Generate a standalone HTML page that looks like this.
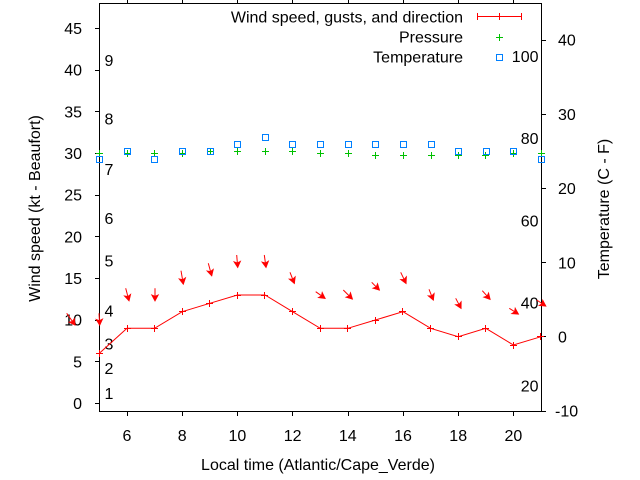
<!DOCTYPE html>
<html><head><meta charset="utf-8"><style>
html,body{margin:0;padding:0;background:#fff;}
svg{display:block;}
text{font-family:"Liberation Sans",Arial,sans-serif;font-size:16px;fill:#000;}
</style></head><body>
<svg width="640" height="480" viewBox="0 0 640 480" xmlns="http://www.w3.org/2000/svg">
<defs>
<marker id="ah" markerUnits="userSpaceOnUse" markerWidth="9" markerHeight="9" refX="6" refY="3.5" orient="auto" overflow="visible">
<path d="M0,0 L6.5,3.5 L0,7 L1.5,3.5 z" fill="#ff0000" stroke="#ff0000" stroke-width="0.6"/>
</marker>
</defs>
<rect width="640" height="480" fill="#fff"/>

<!-- border -->
<g stroke="#000" stroke-width="1" fill="none" shape-rendering="crispEdges">
<rect x="99.5" y="3.5" width="442" height="408"/>
<path d="M95,403.5H99 M95,361.5H99 M95,320.5H99 M95,278.5H99 M95,236.5H99 M95,195.5H99 M95,153.5H99 M95,111.5H99 M95,70.5H99 M95,28.5H99"/>
<path d="M542,336.5H546 M542,262.5H546 M542,188.5H546 M542,114.5H546 M542,40.5H546 M542,411.5H546"/>
<path d="M127.5,412V416 M182.5,412V416 M237.5,412V416 M292.5,412V416 M348.5,412V416 M403.5,412V416 M458.5,412V416 M513.5,412V416"/>
<path d="M127.5,0V3 M182.5,0V3 M237.5,0V3 M292.5,0V3 M348.5,0V3 M403.5,0V3 M458.5,0V3 M513.5,0V3"/>
</g>

<!-- left tick labels -->
<g text-anchor="end">
<text x="82" y="409">0</text>
<text x="82" y="367.3">5</text>
<text x="82" y="325.7">10</text>
<text x="82" y="284">15</text>
<text x="82" y="242.3">20</text>
<text x="82" y="200.7">25</text>
<text x="82" y="159">30</text>
<text x="82" y="117.3">35</text>
<text x="82" y="75.7">40</text>
<text x="82" y="34">45</text>
</g>

<!-- right tick labels -->
<text x="555" y="416.7">-10</text>
<text x="558" y="342.5">0</text>
<text x="558" y="268.3">10</text>
<text x="558" y="194.1">20</text>
<text x="558" y="119.9">30</text>
<text x="558" y="45.7">40</text>

<!-- x tick labels -->
<g text-anchor="middle">
<text x="127" y="441">6</text>
<text x="182.2" y="441">8</text>
<text x="237.4" y="441">10</text>
<text x="292.6" y="441">12</text>
<text x="347.8" y="441">14</text>
<text x="403" y="441">16</text>
<text x="458.2" y="441">18</text>
<text x="513.4" y="441">20</text>
</g>

<!-- Beaufort labels -->
<text x="104.5" y="399.2">1</text>
<text x="104.5" y="374.2">2</text>
<text x="104.5" y="349.7">3</text>
<text x="104.5" y="316.7">4</text>
<text x="104.5" y="266.7">5</text>
<text x="104.5" y="224.2">6</text>
<text x="104.5" y="175.2">7</text>
<text x="104.5" y="124.7">8</text>
<text x="104.5" y="66.2">9</text>

<!-- Fahrenheit labels -->
<g text-anchor="end">
<text x="538.5" y="62.2">100</text>
<text x="538.5" y="144.2">80</text>
<text x="538.5" y="226.7">60</text>
<text x="538.5" y="308.7">40</text>
<text x="538.5" y="391.7">20</text>
</g>

<!-- axis titles -->
<text x="318" y="470" text-anchor="middle">Local time (Atlantic/Cape_Verde)</text>
<text transform="translate(40,208.5) rotate(-90)" text-anchor="middle">Wind speed (kt - Beaufort)</text>
<text transform="translate(609,209) rotate(-90)" text-anchor="middle">Temperature (C - F)</text>

<!-- legend -->
<g text-anchor="end">
<text x="463" y="22.5">Wind speed, gusts, and direction</text>
<text x="463" y="42.5">Pressure</text>
<text x="463" y="62.5">Temperature</text>
</g>
<g stroke="#ff0000" stroke-width="1" shape-rendering="crispEdges" fill="none">
<path d="M477,16.5H522 M477.5,13V20 M521.5,13V20 M499.5,13V20"/>
</g>
<g stroke="#00c000" stroke-width="1" shape-rendering="crispEdges">
<path d="M496,37.5H503 M499.5,34V41"/>
</g>
<rect x="496.5" y="54.5" width="6" height="6" fill="none" stroke="#0080ff" stroke-width="1" shape-rendering="crispEdges"/>

<!-- wind speed line -->
<polyline fill="none" stroke="#ff0000" stroke-width="1" points="99.4,353.3 127,328.3 154.6,328.3 182.2,311.7 209.8,303.3 237.4,295 265,295 292.6,311.7 320.2,328.3 347.8,328.3 375.4,320 403,311.7 430.6,328.3 458.2,336.7 485.8,328.3 513.4,345 541,336.7"/>
<g stroke="#ff0000" stroke-width="1" shape-rendering="crispEdges">
<path d="M96,353.5H103 M99.5,350V357
M124,328.5H131 M127.5,325V332
M151,328.5H158 M154.5,325V332
M179,311.5H186 M182.5,308V315
M206,303.5H213 M209.5,300V307
M234,295.5H241 M237.5,292V299
M261,295.5H268 M264.5,292V299
M289,311.5H296 M292.5,308V315
M317,328.5H324 M320.5,325V332
M344,328.5H351 M347.5,325V332
M372,320.5H379 M375.5,317V324
M399,311.5H406 M402.5,308V315
M427,328.5H434 M430.5,325V332
M455,336.5H462 M458.5,333V340
M482,328.5H489 M485.5,325V332
M510,345.5H517 M513.5,342V349
M537,336.5H544 M540.5,333V340"/>
</g>

<!-- wind direction arrows -->
<g stroke="#ff0000" stroke-width="1" fill="none" marker-end="url(#ah)">
<line x1="66.7" y1="313.3" x2="75" y2="325"/>
<line x1="99" y1="313.3" x2="99.7" y2="325"/>
<line x1="125.7" y1="288.3" x2="129" y2="300.7"/>
<line x1="155" y1="288.3" x2="155" y2="300.7"/>
<line x1="181" y1="270.7" x2="183.3" y2="284"/>
<line x1="208.3" y1="263.3" x2="211.7" y2="275.7"/>
<line x1="236.7" y1="255" x2="237.7" y2="267.3"/>
<line x1="264.3" y1="255" x2="266" y2="267.3"/>
<line x1="290" y1="272.3" x2="294.3" y2="283.3"/>
<line x1="315.7" y1="291.7" x2="325" y2="298.3"/>
<line x1="343.3" y1="290" x2="352.3" y2="299"/>
<line x1="371.7" y1="282.3" x2="379.3" y2="290"/>
<line x1="400.7" y1="272.3" x2="406" y2="283.3"/>
<line x1="429" y1="289.3" x2="433.3" y2="300"/>
<line x1="455.7" y1="298.3" x2="461" y2="308.3"/>
<line x1="482.3" y1="290.7" x2="490" y2="299.3"/>
<line x1="509.3" y1="308.3" x2="518.3" y2="314"/>
<line x1="536.7" y1="300" x2="545.7" y2="306"/>
</g>

<!-- pressure points -->
<g stroke="#00c000" stroke-width="1" shape-rendering="crispEdges">
<path d="M96,153.5H103 M99.5,150V157
M124,153.5H131 M127.5,150V157
M151,153.5H158 M154.5,150V157
M179,153.5H186 M182.5,150V157
M207,151.5H214 M210.5,148V155
M234,151.5H241 M237.5,148V155
M262,151.5H269 M265.5,148V155
M289,151.5H296 M292.5,148V155
M317,153.5H324 M320.5,150V157
M345,153.5H352 M348.5,150V157
M372,155.5H379 M375.5,152V159
M400,155.5H407 M403.5,152V159
M428,155.5H435 M431.5,152V159
M455,155.5H462 M458.5,152V159
M482,155.5H489 M485.5,152V159
M510,153.5H517 M513.5,150V157
M538,153.5H545 M541.5,150V157"/>
</g>

<!-- temperature points -->
<g fill="none" stroke="#0080ff" stroke-width="1" shape-rendering="crispEdges">
<rect x="96.5" y="156.5" width="6" height="6"/>
<rect x="124.5" y="148.5" width="6" height="6"/>
<rect x="151.5" y="156.5" width="6" height="6"/>
<rect x="179.5" y="148.5" width="6" height="6"/>
<rect x="207.5" y="148.5" width="6" height="6"/>
<rect x="234.5" y="141.5" width="6" height="6"/>
<rect x="262.5" y="134.5" width="6" height="6"/>
<rect x="289.5" y="141.5" width="6" height="6"/>
<rect x="317.5" y="141.5" width="6" height="6"/>
<rect x="345.5" y="141.5" width="6" height="6"/>
<rect x="372.5" y="141.5" width="6" height="6"/>
<rect x="400.5" y="141.5" width="6" height="6"/>
<rect x="428.5" y="141.5" width="6" height="6"/>
<rect x="455.5" y="148.5" width="6" height="6"/>
<rect x="483.5" y="148.5" width="6" height="6"/>
<rect x="510.5" y="148.5" width="6" height="6"/>
<rect x="538.5" y="156.5" width="6" height="6"/>
</g>
</svg>
</body></html>
